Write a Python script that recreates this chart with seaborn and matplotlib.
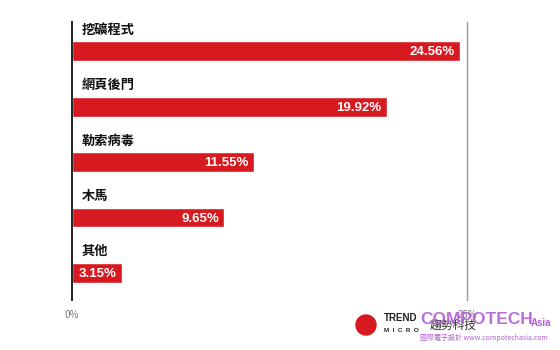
import matplotlib
matplotlib.use("Agg")
import matplotlib.pyplot as plt
from matplotlib.patches import Ellipse
import seaborn as sns
import pandas as pd

categories = ["挖礦程式", "網頁後門", "勒索病毒", "木馬", "其他"]
values = [24.56, 19.92, 11.55, 9.65, 3.15]
value_labels = ["24.56%", "19.92%", "11.55%", "9.65%", "3.15%"]
tick_values = [0, 25]
tick_labels = ["0%", "25%"]

sns.set_theme(style="white")
plt.rcParams["font.family"] = ["Noto Sans CJK TC", "DejaVu Sans"]

df = pd.DataFrame({"cat": categories, "val": values})

fig = plt.figure(figsize=(5.6, 3.5), dpi=100)
ax = fig.add_axes([72/560, 1 - 300/350, (467-72)/560, 278/350])

sns.barplot(data=df, x="val", y="cat", orient="h", color="#d71920",
            saturation=1, width=0.36, ax=ax)

ax.set_xlim(0, 25)
ax.set_ylim(4.49, -0.53)
ax.set_xlabel("")
ax.set_ylabel("")
ax.set_yticks([])
ax.set_xticks(tick_values)
ax.set_xticklabels(tick_labels, fontsize=7, color="#777777")
ax.tick_params(axis="x", length=0, pad=7)

for s in ["top", "bottom"]:
    ax.spines[s].set_visible(False)
ax.spines["left"].set_color("#222222")
ax.spines["left"].set_linewidth(1.4)
ax.spines["right"].set_color("#999999")
ax.spines["right"].set_linewidth(1.0)

for i, (c, v, lab) in enumerate(zip(categories, values, value_labels)):
    ax.text(0.6, i - 0.39, c, ha="left", va="center", fontsize=9.5,
            color="#111111", fontweight="bold")
    ax.text(v - 0.35, i + 0.02, lab, ha="right", va="center", fontsize=9.5,
            color="white", family=["Liberation Sans", "DejaVu Sans"],
            fontweight="bold")

# watermarks / logos
circ = Ellipse((366/560, 1 - 325/350), 20/560, 20/350,
               transform=fig.transFigure, color="#d71920", zorder=5)
fig.patches.append(circ)
fig.text(384/560, 1 - 318/350, "TREND", fontsize=7, fontweight="bold",
         color="#222222", ha="left", va="center",
         family=["Liberation Sans", "DejaVu Sans"])
fig.text(384/560, 1 - 331/350, "M  I  C  R  O", fontsize=4.5, fontweight="bold",
         color="#222222", ha="left", va="center",
         family=["Liberation Sans", "DejaVu Sans"])
fig.text(430/560, 1 - 325/350, "趨勢科技", fontsize=8.5,
         color="#333333", ha="left", va="center")
fig.text(420/560, 1 - 320/350, "COMPOTECH", fontsize=12.5, fontweight="bold",
         color="#b45fd6", ha="left", va="center", alpha=0.9,
         family=["Liberation Sans", "DejaVu Sans"])
fig.text(531/560, 1 - 323/350, "Asia", fontsize=7, fontweight="bold",
         color="#b45fd6", ha="left", va="center",
         family=["Liberation Sans", "DejaVu Sans"])
fig.text(420/560, 1 - 338/350, "國際電子設計 www.compotechasia.com", fontsize=5,
         color="#b45fd6", ha="left", va="center")

fig.savefig("out.png", dpi=100, facecolor="white")
